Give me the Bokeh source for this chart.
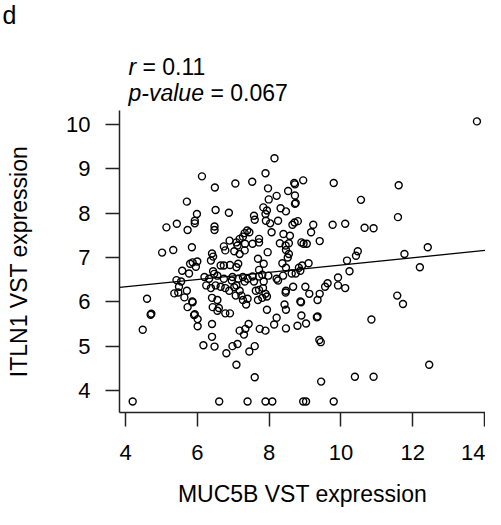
from bokeh.plotting import figure
from bokeh.models import Range1d, FixedTicker, LinearAxis
from bokeh.core.properties import value
from bokeh.embed import file_html
from bokeh.resources import INLINE

# MUC5B (x) and ITLN1 (y) VST expression
muc5b = [6.13,6.49,7.06,5.71,5.99,6.51,6.88,
         8.15,7.90,7.53,7.97,8.72,8.70,8.95,9.80,10.56,8.53,8.21,7.99,8.72,8.72,8.74,7.84,7.94,7.90,8.32,8.47,7.58,
         13.79,11.61,11.59,10.66,10.91,10.47,11.77,12.42,12.20,11.57,11.73,
         10.85,10.91,12.46,
         4.20,6.61,7.40,7.90,8.09,8.95,9.03,9.80,
         10.39,9.45,7.60,9.40,9.44,9.33,9.35,7.45,7.60,7.09,7.12,7.18,7.30,7.34,7.43,7.74,7.90,8.14,8.21,8.47,8.79,8.90,9.03,
         4.70,4.72,4.48,5.91,5.93,6.01,6.01,6.41,6.41,6.17,6.48,6.81,6.98,6.78,6.91,6.56,
         4.60,5.02,5.33,5.85,5.14,5.43,5.73,5.93,5.93,6.48,6.48,5.80,5.87,6.00,5.96,5.77,5.58,5.42,5.55,5.49,5.47,5.36,5.71,5.64,5.73,5.86,5.87,
         6.74,6.90,6.78,7.03,7.09,6.41,6.44,6.38,6.65,6.74,6.91,7.09,6.44,6.47,6.20,6.33,6.56,6.74,6.98,6.96,6.25,6.38,6.51,6.65,6.78,6.89,7.03,6.41,6.56,6.43,6.60,7.07,
         7.60,7.91,8.03,8.25,8.65,8.71,8.80,9.23,9.77,10.12,7.39,7.32,7.45,7.27,7.18,8.07,8.40,8.58,9.17,8.30,8.46,8.55,8.90,8.96,9.05,9.41,
         7.12,7.33,7.54,7.72,7.72,7.96,7.32,7.18,8.47,8.55,8.52,7.69,7.85,8.37,7.14,7.72,8.92,9.10,8.83,8.87,8.74,8.63,8.47,8.39,
         10.42,10.17,10.24,9.92,9.63,9.56,9.92,10.12,9.41,9.35,9.01,9.12,8.67,8.46,8.87,8.89,8.43,7.94,8.47,
         8.25,8.21,7.98,7.81,7.72,7.54,7.40,7.27,7.14,7.32,7.09,7.18,7.23,7.27,7.40,7.36,7.63,7.72,7.83,7.90,7.81,7.69,7.94,7.58,7.85,8.47]
itln1 = [8.83,8.58,8.67,8.26,7.98,8.07,8.01,
         9.24,8.90,8.71,8.56,8.65,8.68,8.74,8.68,8.30,8.50,8.39,8.31,8.40,8.21,8.23,8.13,8.06,7.98,8.11,8.04,7.94,
         10.07,8.63,7.91,7.67,7.66,7.14,7.08,7.23,6.78,6.14,5.95,
         5.60,4.31,4.58,
         3.75,3.75,3.75,3.75,3.75,3.75,3.75,3.75,
         4.31,4.20,4.30,5.14,5.09,5.65,5.67,4.88,5.00,4.58,5.05,5.35,5.26,5.39,5.50,5.39,5.35,5.49,5.64,5.40,5.46,5.69,5.51,
         5.71,5.73,5.37,5.70,5.72,5.61,5.45,5.50,5.21,5.02,4.99,4.84,5.00,5.74,5.74,5.80,
         6.07,7.11,7.17,7.23,7.68,7.76,7.62,7.83,7.77,7.70,7.62,6.86,6.89,6.91,6.79,6.64,6.70,6.49,6.46,6.34,6.21,6.19,6.25,6.10,5.88,6.01,5.99,
         7.25,7.38,7.16,7.14,7.34,7.09,7.02,6.93,6.82,6.82,6.83,6.78,6.69,6.63,6.56,6.52,6.59,6.52,6.56,6.48,6.37,6.31,6.37,6.34,6.31,6.25,6.33,6.09,6.04,5.88,5.86,6.14,
         7.85,7.83,7.77,7.83,7.74,7.79,7.82,7.74,7.74,7.76,7.61,7.55,7.57,7.47,7.42,7.57,7.53,7.49,7.57,7.32,7.27,7.32,7.34,7.31,7.31,7.37,
         7.27,7.31,7.31,7.34,7.42,7.12,7.16,7.08,7.17,7.08,7.00,6.97,6.86,6.87,6.86,6.72,6.82,6.87,6.77,6.70,6.64,6.64,6.77,6.59,
         7.04,6.93,6.69,6.55,6.42,6.34,6.37,6.31,6.18,6.04,6.34,6.18,6.34,6.21,6.01,5.99,5.94,5.82,5.82,
         6.48,6.52,6.59,6.61,6.57,6.57,6.52,6.56,6.52,6.46,6.37,6.25,6.14,6.04,6.07,5.94,6.25,6.27,6.31,6.18,6.09,6.04,6.12,6.46,6.46,6.25]

x_ticks = [4, 6, 8, 10, 12, 14]
y_ticks = [4, 5, 6, 7, 8, 9, 10]
fit_intercept = 6.01
fit_slope = 0.082
panel_label = "d"
r_text = "0.11"
p_text = "0.067"

FONT = "Liberation Sans"
W, H = 485, 509

# pixel scale, chosen so that the plot region sits where it does in the picture
px_x = 35.9
px_y = 44.33
x0_px, y0_px = 125, 124          # figure pixels of x=4 and y=10
frame_left_px, frame_top_px, frame_bottom_px = 119, 110, 412

def sx(px):
    return 4 + (px - x0_px) / px_x

def sy(py):
    return 10 - (py - y0_px) / px_y

x_rng = (sx(0), sx(W))
y_rng = (sy(H), sy(0))
box_x = (sx(frame_left_px), sx(W))
box_y = (sy(frame_bottom_px), sy(frame_top_px))

p = figure(width=W, height=H, output_backend="svg", toolbar_location=None,
           x_range=Range1d(*x_rng), y_range=Range1d(*y_rng),
           x_axis_location=None, y_axis_location=None,
           min_border_left=0, min_border_right=0, min_border_top=0, min_border_bottom=0)
p.title.visible = False
p.outline_line_color = None
p.grid.visible = False
p.background_fill_color = "white"
p.border_fill_color = "white"

xaxis = LinearAxis(fixed_location=box_y[0], bounds=box_x,
                   ticker=FixedTicker(ticks=x_ticks), axis_label="MUC5B VST expression")
yaxis = LinearAxis(fixed_location=box_x[0], bounds=box_y,
                   ticker=FixedTicker(ticks=y_ticks), axis_label="ITLN1 VST expression")
for ax in (xaxis, yaxis):
    ax.axis_line_color = "#222222"
    ax.axis_line_width = 1.5
    ax.major_tick_line_color = "#222222"
    ax.major_tick_line_width = 1.5
    ax.major_tick_in = 0
    ax.major_tick_out = 14
    ax.minor_tick_line_color = None
    ax.major_label_text_font = FONT
    ax.major_label_text_font_size = "22px"
    ax.major_label_text_color = "black"
    ax.axis_label_text_font = FONT
    ax.axis_label_text_font_size = "23px"
    ax.axis_label_text_font_style = "normal"
    ax.axis_label_text_color = "black"
xaxis.major_label_standoff = 18
yaxis.major_label_standoff = 15
xaxis.axis_label_standoff = 18
yaxis.axis_label_standoff = 31
p.add_layout(xaxis, "below")
p.add_layout(yaxis, "left")

p.scatter(muc5b, itln1, marker="circle", size=7, fill_color=None,
          line_color="black", line_width=1.4)

fit_x = list(box_x)
fit_y = [fit_intercept + fit_slope * v for v in fit_x]
p.line(fit_x, fit_y, line_color="black", line_width=1.3)

def lab(px, py, text, style="normal", size="23px"):
    p.text(x=[sx(px)], y=[sy(py)], text=[text], text_font=value(FONT),
           text_font_size=size, text_font_style=style, text_color="black",
           text_baseline="alphabetic", text_align="left")

lab(2, 14, panel_label, size="25px")
lab(128, 66, "r", style="italic")
lab(142, 66, "= " + r_text)
lab(128, 92, "p-value", style="italic")
lab(210, 92, "= " + p_text)

open("out.html", "w").write(file_html(p, INLINE))
